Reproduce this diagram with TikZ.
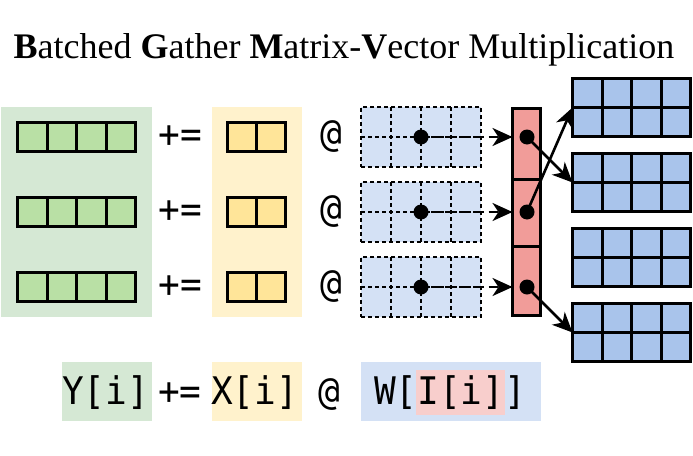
\documentclass[tikz,border=0pt]{standalone}
\usepackage{fontspec}
\setmainfont{Liberation Serif}
\newfontfamily\codefont[FakeStretch=0.95]{DejaVu Sans Mono}
\usetikzlibrary{arrows.meta,calc}
\definecolor{gbg}{HTML}{D5E8D4}
\definecolor{gcell}{HTML}{B9E0A5}
\definecolor{ybg}{HTML}{FFF2CC}
\definecolor{ycell}{HTML}{FFE599}
\definecolor{bbg}{HTML}{D4E1F5}
\definecolor{bcell}{HTML}{A9C4EB}
\definecolor{rcell}{HTML}{F19C99}
\definecolor{rbg}{HTML}{F8CECC}
\begin{document}
\begin{tikzpicture}[x=1pt,y=-1pt,
  bgbox/.style={draw=none, inner sep=0, outer sep=0},
  solidbox/.style={draw=black, line width=3pt, inner sep=0, outer sep=0},
  dashbox/.style={draw=black, line width=1.2pt, dash pattern=on 4pt off 3pt, fill=bbg, inner sep=0, outer sep=0},
  dotnode/.style={circle, fill=black, inner sep=0, minimum size=15pt},
  codetxt/.style={font=\codefont\fontsize{38}{40}\selectfont, inner sep=0, outer sep=0},
  dasharr/.style={line width=2.6pt, dash pattern=on 9pt off 4.5pt, -{Stealth[length=20pt,width=18pt,inset=6pt]}},
  solarr/.style={line width=2.6pt, -{Stealth[length=20pt,width=18pt,inset=6pt]}}
]
\useasboundingbox (0,0) rectangle (693,455);

% title
\node[anchor=base, inner sep=0, font=\fontsize{36}{40}\selectfont] (title) at (344,58)
  {\textbf{B}atched \textbf{G}ather \textbf{M}atrix-\textbf{V}ector Multiplication};

% background panels
\node[bgbox, fill=gbg, minimum width=151pt, minimum height=210pt] (gpanel) at (76.5,212) {};
\node[bgbox, fill=ybg, minimum width=90pt, minimum height=210pt] (ypanel) at (257,212) {};

% rows
\foreach \i/\y in {1/137,2/212,3/287}{
  \node[solidbox, fill=gcell, minimum width=118pt, minimum height=29pt] (g\i) at (76.5,\y) {};
  \foreach \k in {1,2,3}
    \draw[line width=3pt] ($(g\i.north west)!\k/4!(g\i.north east)$) -- ($(g\i.south west)!\k/4!(g\i.south east)$);
  \node[codetxt] (pe\i) at (180,\y) {+=};
  \node[solidbox, fill=ycell, minimum width=58pt, minimum height=29pt] (y\i) at (256.5,\y) {};
  \draw[line width=3pt] (y\i.north) -- (y\i.south);
  \node[codetxt] (at\i) at (331,\y) {@};
  \node[dashbox, minimum width=120pt, minimum height=60pt] (w\i) at (421,\y) {};
  \foreach \k in {1,2,3}
    \draw[line width=1.2pt, dash pattern=on 4pt off 3pt] ($(w\i.north west)!\k/4!(w\i.north east)$) -- ($(w\i.south west)!\k/4!(w\i.south east)$);
  \draw[line width=1.2pt, dash pattern=on 4pt off 3pt] (w\i.west) -- (w\i.east);
}

% red index box
\node[solidbox, fill=rcell, minimum width=28pt, minimum height=207pt] (red) at (526.5,212) {};
\draw[line width=3pt] (red.west |- 0,179) coordinate (rl1) -- (red.east |- 0,179) coordinate (rr1);
\draw[line width=3pt] (red.west |- 0,246) coordinate (rl2) -- (red.east |- 0,246) coordinate (rr2);

% blue weight matrices
\foreach \j/\y in {1/107.5,2/182.5,3/257.5,4/332.5}{
  \node[solidbox, fill=bcell, minimum width=118pt, minimum height=58pt] (m\j) at (631.5,\y) {};
  \foreach \k in {1,2,3}
    \draw[line width=3pt] ($(m\j.north west)!\k/4!(m\j.north east)$) -- ($(m\j.south west)!\k/4!(m\j.south east)$);
  \draw[line width=3pt] (m\j.west) -- (m\j.east);
}

% dots and arrows
\foreach \i/\y in {1/137,2/212,3/287}{
  \node[dotnode] (d\i) at (421,\y) {};
  \node[dotnode] (r\i) at (527,\y) {};
  \draw[dasharr] (d\i.center) -- (d\i -| red.west);
}
\draw[solarr] (r1.center) -- (m2.west);
\draw[solarr] (r2.center) -- (m1.west);
\draw[solarr] (r3.center) -- (m4.west);

% bottom formula
\node[bgbox, fill=gbg, minimum width=90pt, minimum height=59pt] (bgY) at (107,391.5) {};
\node[bgbox, fill=ybg, minimum width=90pt, minimum height=59pt] (bgX) at (257,391.5) {};
\node[bgbox, fill=bbg, minimum width=180pt, minimum height=59pt] (bgW) at (451,391.5) {};
\node[bgbox, fill=rbg, minimum width=89pt, minimum height=45pt] (bgI) at (460.5,392.5) {};
\node[codetxt, anchor=base west] (tY) at (62,404) {Y[i]};
\node[codetxt, anchor=base west] (tpe) at (158,404) {+=};
\node[codetxt, anchor=base west] (tX) at (211,404) {X[i]};
\node[codetxt, anchor=base west] (tat) at (318,404) {@};
\node[codetxt, anchor=base west] (tW) at (374,404) {W[I[i]]};
\end{tikzpicture}
\end{document}
